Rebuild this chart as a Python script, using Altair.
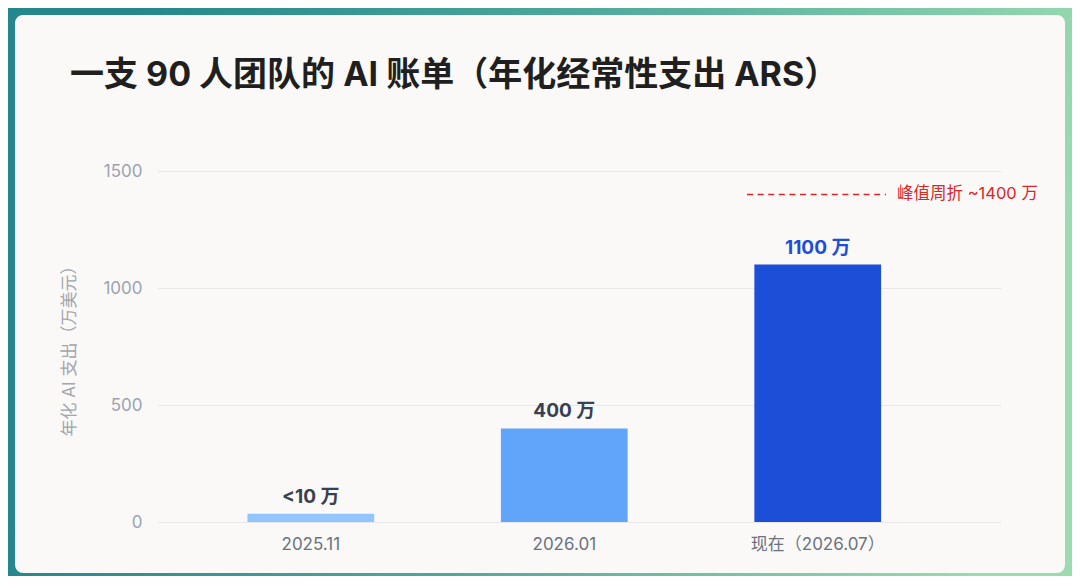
import altair as alt
import pandas as pd

# data
CATEGORIES = ["2025.11", "2026.01", "现在（2026.07）"]
VALUES = [35, 400, 1100]
LABELS = ["<10 万", "400 万", "1100 万"]
BAR_COLORS = ["#93C5FD", "#60A5FA", "#1D4ED8"]
LABEL_COLORS = ["#374151", "#374151", "#1D4ED8"]
Y_TICKS = [0, 500, 1000, 1500]
PEAK = 1400
PEAK_LABEL = "峰值周折 ~1400 万"
TITLE = "一支 90 人团队的 AI 账单（年化经常性支出 ARS）"
Y_TITLE = "年化 AI 支出（万美元）"

FONT = "Inter, 'Noto Sans CJK SC', sans-serif"
CARD = "#FAF9F7"
RED = "#DC2626"

W, H = 844, 351
PAD = {"left": 149, "top": 163, "right": 71, "bottom": 54}

bars_df = pd.DataFrame(
    {
        "period": CATEGORIES,
        "value": VALUES,
        "label": LABELS,
        "bar_color": BAR_COLORS,
        "label_color": LABEL_COLORS,
    }
)
one = pd.DataFrame({"t": [TITLE], "peak": [PEAK_LABEL]})

x = alt.X(
    "period:N",
    sort=CATEGORIES,
    title=None,
    scale=alt.Scale(paddingInner=0.5, paddingOuter=0.415, align=0.43),
    axis=alt.Axis(
        labelAngle=0,
        labelFontSize=17,
        labelColor="#6B7280",
        labelPadding=14,
        ticks=False,
        domain=False,
        grid=False,
        labelFont=FONT,
    ),
)
y = alt.Y(
    "value:Q",
    title=Y_TITLE,
    scale=alt.Scale(domain=[0, 1500], nice=False),
    axis=alt.Axis(
        values=Y_TICKS,
        format="d",
        labelFontSize=17,
        labelColor="#9CA3AF",
        labelPadding=15,
        ticks=False,
        domain=False,
        gridColor="#E8E8E8",
        titleFontSize=17,
        titleFontWeight="normal",
        titleColor="#A3A6AD",
        titlePadding=24,
        titleFont=FONT,
        labelFont=FONT,
    ),
)

# gradient frame around the card (card colour is the chart background)
frame = (
    alt.Chart(one)
    .mark_rect(
        fillOpacity=0,
        strokeWidth=200,
        cornerRadius=108,
        stroke=alt.Gradient(
            gradient="linear",
            stops=[
                alt.GradientStop(color="#24878C", offset=0.19),
                alt.GradientStop(color="#4FA99B", offset=0.55),
                alt.GradientStop(color="#9ADBB0", offset=0.96),
            ],
            x1=0,
            y1=0,
            x2=1,
            y2=0.15,
        ),
    )
    .encode(
        x=alt.value(-242), x2=alt.value(1008), y=alt.value(-256), y2=alt.value(502)
    )
)

bars = (
    alt.Chart(bars_df)
    .mark_bar()
    .encode(x=x, y=y, color=alt.Color("bar_color:N", scale=None))
)

labels = (
    alt.Chart(bars_df)
    .mark_text(
        fontSize=19, fontWeight="bold", dy=-11, baseline="alphabetic", font=FONT
    )
    .encode(
        x=alt.X("period:N", sort=CATEGORIES),
        y="value:Q",
        text="label:N",
        color=alt.Color("label_color:N", scale=None),
    )
)

peak_line = (
    alt.Chart(one)
    .mark_rule(color=RED, strokeWidth=1.5, strokeDash=[6, 4.6])
    .encode(x=alt.value(590), x2=alt.value(729), y=alt.datum(PEAK))
)

peak_text = (
    alt.Chart(one)
    .mark_text(
        color=RED, fontSize=16.5, align="left", baseline="middle", font=FONT
    )
    .encode(x=alt.value(740), y=alt.datum(PEAK), text="peak:N")
)

title = (
    alt.Chart(one)
    .mark_text(
        fontSize=34,
        fontWeight="bold",
        color="#1F1F1F",
        align="left",
        baseline="alphabetic",
        font=FONT,
    )
    .encode(x=alt.value(-87), y=alt.value(-85), text="t:N")
)

chart = (
    alt.layer(frame, bars, labels, peak_line, peak_text, title)
    .properties(
        width=W,
        height=H,
        padding=PAD,
        autosize=alt.AutoSizeParams(type="none"),
        background=CARD,
    )
    .configure_view(strokeWidth=0)
)

chart.save("out.html", embed_options={"renderer": "svg", "actions": False})
